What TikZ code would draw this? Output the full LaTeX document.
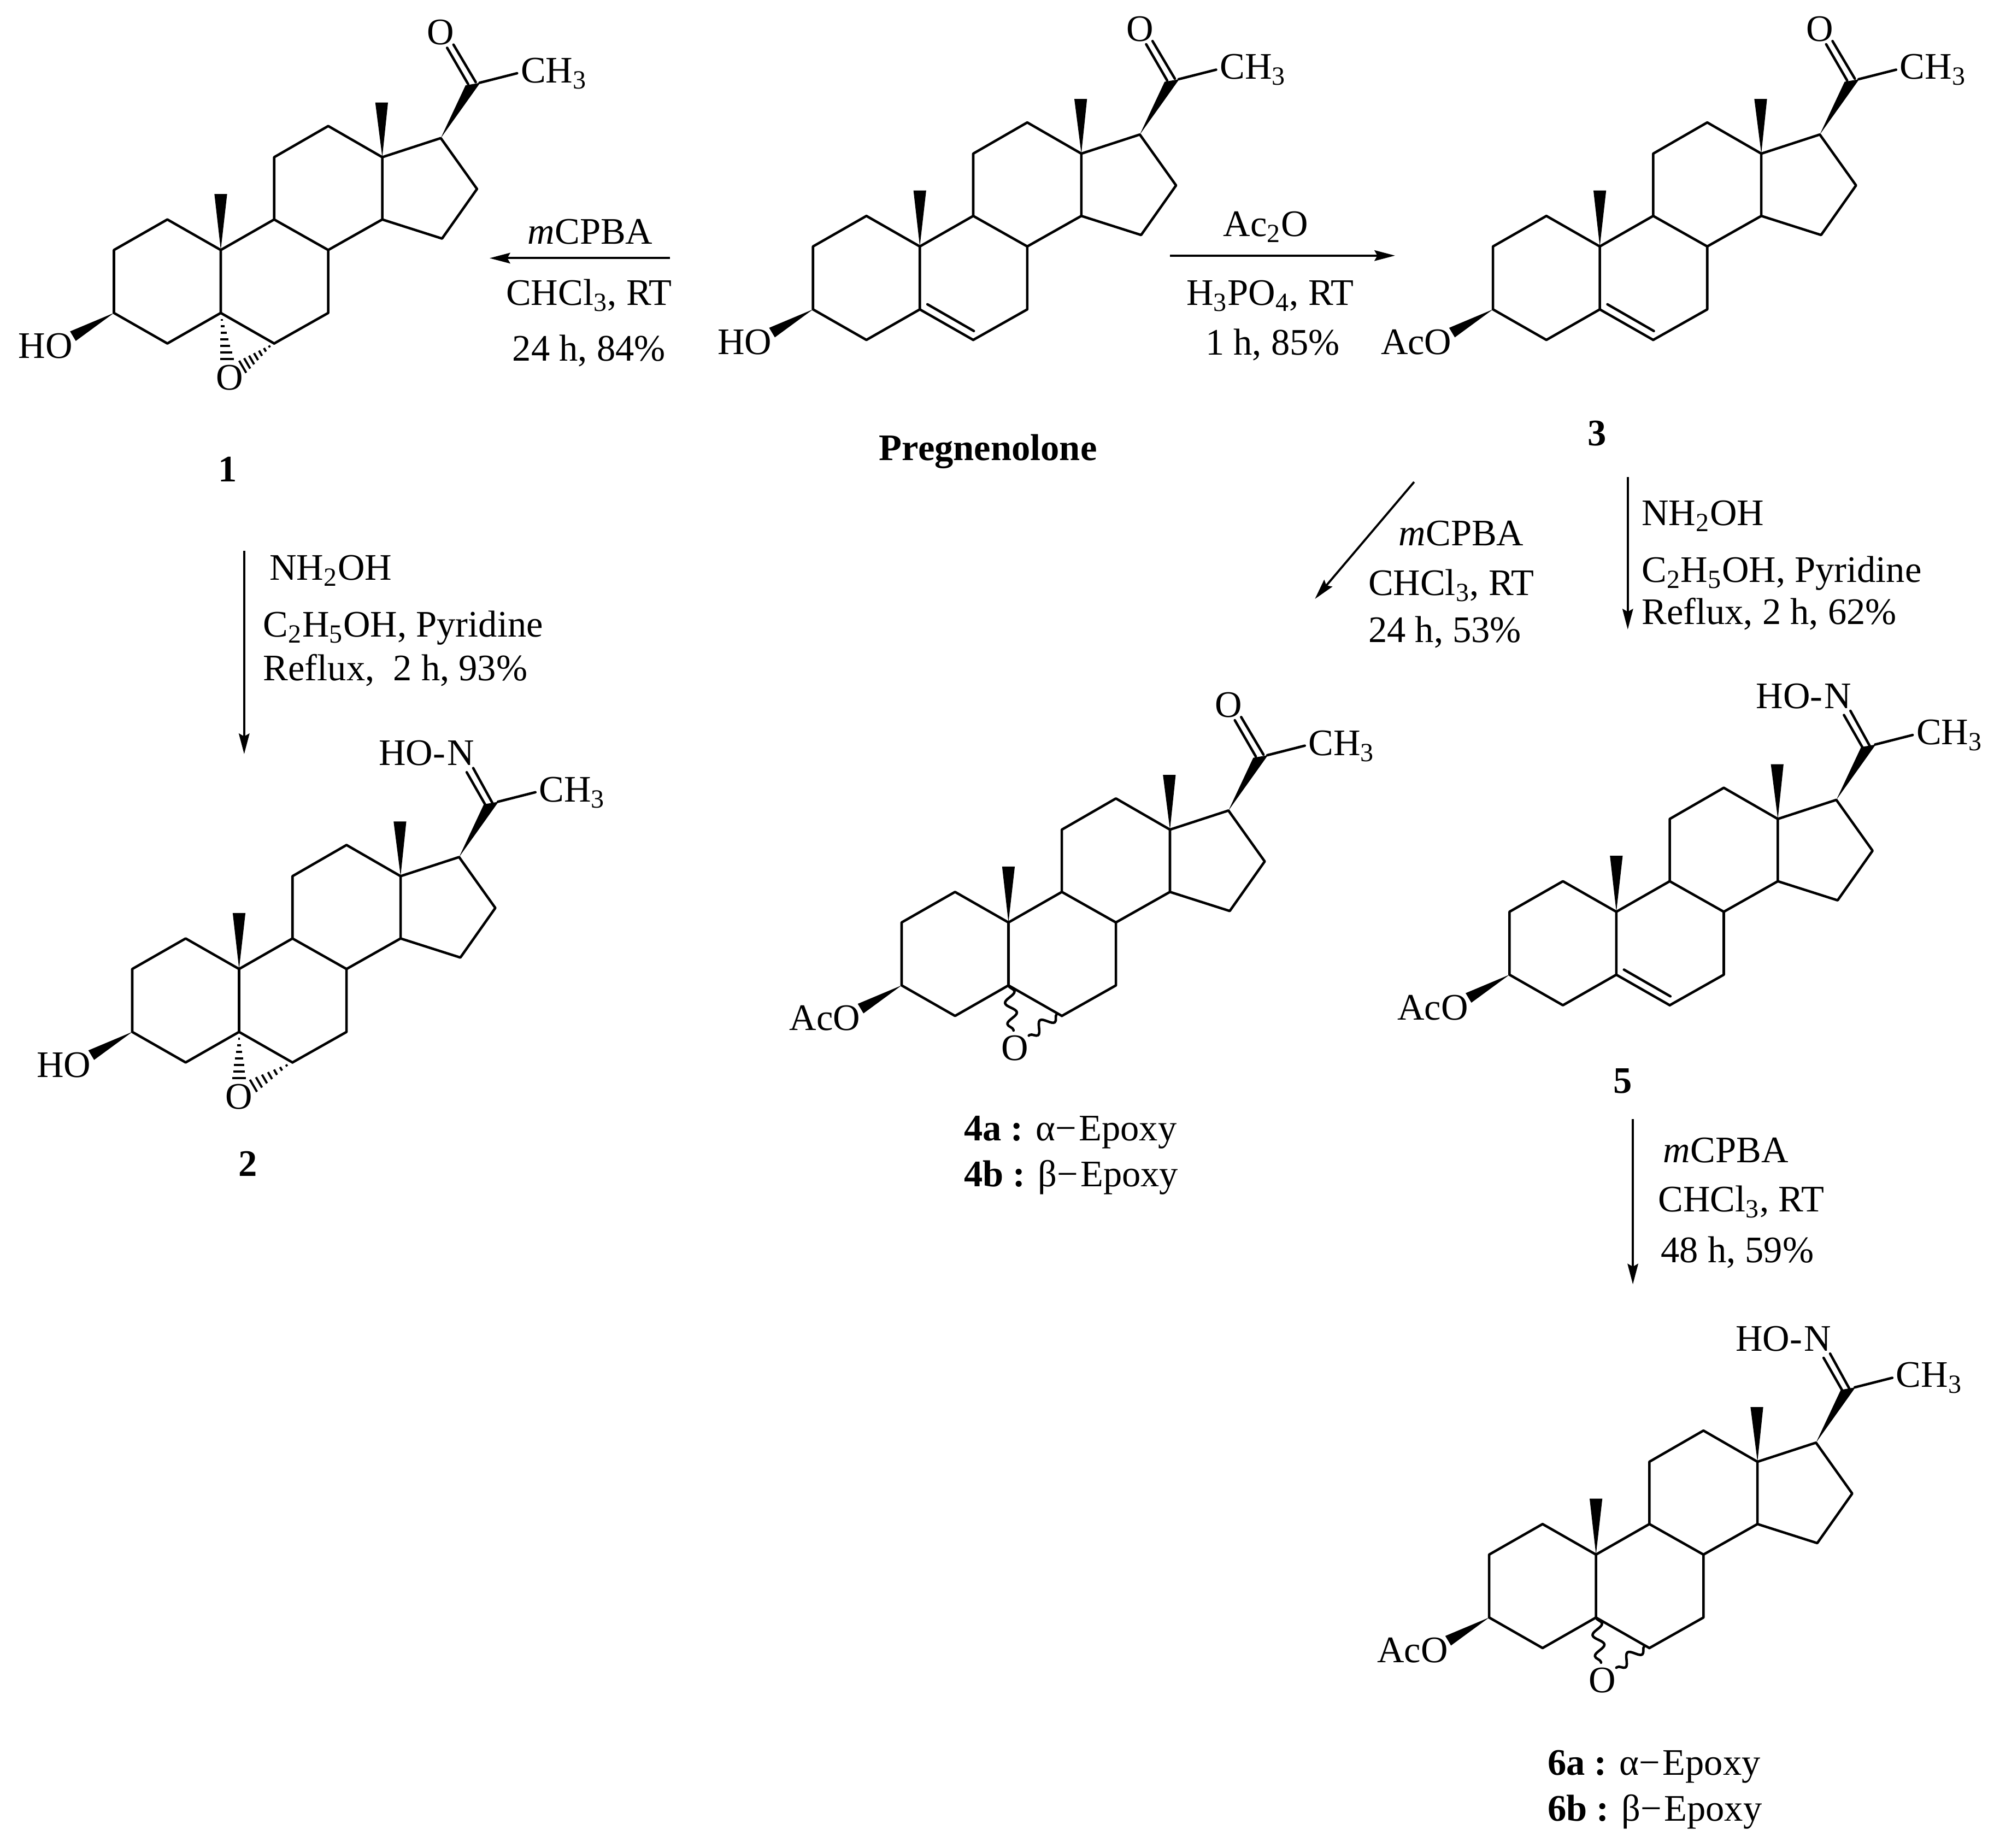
\documentclass[tikz,border=0pt]{standalone}
\usepackage{fontspec}
\setmainfont{Liberation Serif}
\usetikzlibrary{calc,arrows.meta,decorations.pathmorphing}
\tikzset{
  bond/.style={line width=1.3pt,line cap=round,line join=round},
  atom/.style={inner sep=0pt,outer sep=0pt,font=\fontsize{19.5}{23}\selectfont},
  label/.style={atom,font=\fontsize{19.5}{23}\selectfont\bfseries},
  reaction/.style={-{Stealth[length=10.7pt,width=5.5pt,inset=1.5pt]},line width=1.1pt},
  wavy/.style={bond,decorate,decoration={snake,amplitude=2.8pt,segment length=11pt}},
  % the four rings, all single bonds but C5-C6
  pics/rings/.style={code={
    \draw[bond] (0,0) -- (-42,-24) -- (-84,0) -- (-84,49.5) -- (-42,73.5) -- (0,49.5) -- cycle;
    \draw[bond] (0,0) -- (42,-24) -- (84.5,0) -- (84.5,49.5) -- (42,73.5);
    \draw[bond] (42,-24) -- (42,-73) -- (84.5,-97.5) -- (127,-73) -- (127,-24) -- (84.5,0);
    \draw[bond] (127,-24) -- (174,-9) -- (201.5,-48) -- (173,-88) -- (127,-73);
    \fill (0,0) -- (-5,-44) -- (5,-44) -- cycle;
    \fill (127,-73) -- (121.5,-116) -- (131.5,-116) -- cycle;
    \fill (173,-88) -- (192.5,-129.5) -- (204,-131.5) -- cycle;
    \draw[bond] (203.5,-131.5) -- (233,-139);
    \node[atom,anchor=base west] (-me) at (236,-131.5) {CH\textsubscript{3}};
  }},
  pics/ketone/.style={code={
    \draw[bond] (178,-159) -- (194.5,-130.5) (183,-161.5) -- (200.5,-132);
    \node[atom] (-o) at (173,-171) {O};
  }},
  pics/oxime/.style={code={
    \draw[bond] (179,-154.7) -- (193.7,-129) (184.1,-158) -- (199.5,-130);
    \node[atom,anchor=base east] (-n) at (185,-160) {HO-\kern1pt N};
  }},
  pics/beta/.style={code={
    \fill (-84,49.5) -- (-118.5,64) -- (-114,71.5) -- cycle;
    \node[atom,anchor=base east] (-r) at (-116.5,85) {#1};
  }},
  pics/ene/.style={code={
    \draw[bond] (0,49.5) -- (42,73.5) (6,45.5) -- (42.5,66.5);
  }},
  pics/alpha epoxide/.style args={#1 and #2 over #3}{code={
    \draw[bond] (0,49.5) -- (42,73.5);
    \foreach \t in {.15,.29,...,1}{
      \draw[line width=1.1pt] ($(0,49.5)!\t!(#1,86)+\t*(5.5,0)$) -- ($(0,49.5)!\t!(#1,86)-\t*(5.5,0)$); % to C5
      \draw[line width=1.1pt] ($(42,73)!\t!(#2,92)+\t*(2.8,4.8)$) -- ($(42,73)!\t!(#2,92)-\t*(2.8,4.8)$); % to C6
    }
    \node[atom] (-o) at (#3,100.5) {O};
  }},
  pics/wavy epoxide/.style={code={
    \draw[bond] (0,49.5) -- (42,73.5);
    \draw[wavy] (0,49.5) -- (4,85);
    \draw[wavy] (38,72) -- (16,89);
    \node[atom] (-o) at (5,99) {O};
  }},
}
\begin{document}
\begin{tikzpicture}[x=.02327cm,y=-.02327cm]
	\useasboundingbox (0,0) rectangle (1568,1453);

	% the steroids
	\pic (preg) at (723.3,193.8) {rings};
	\pic (preg) at (723.3,193.8) {ketone};
	\pic (preg) at (723.3,193.8) {beta=HO};
	\pic (preg) at (723.3,193.8) {ene};

	\pic (mone) at (173.6,196.6) {rings};
	\pic (mone) at (173.6,196.6) {ketone};
	\pic (mone) at (173.6,196.6) {beta=HO};
	\pic (mone) at (173.6,196.6) {alpha epoxide=5 and 17 over 7};

	\pic (mtwo) at (188,762) {rings};
	\pic (mtwo) at (188,762) {oxime};
	\pic (mtwo) at (188,762) {beta=HO};
	\pic (mtwo) at (188,762) {alpha epoxide=0 and 11 over 0};

	\pic (mthree) at (1258,193.8) {rings};
	\pic (mthree) at (1258,193.8) {ketone};
	\pic (mthree) at (1258,193.8) {beta=AcO};
	\pic (mthree) at (1258,193.8) {ene};

	\pic (mfour) at (793,725.4) {rings};
	\pic (mfour) at (793,725.4) {ketone};
	\pic (mfour) at (793,725.4) {beta=AcO};
	\pic (mfour) at (793,725.4) {wavy epoxide};

	\pic (mfive) at (1271,717) {rings};
	\pic (mfive) at (1271,717) {oxime};
	\pic (mfive) at (1271,717) {beta=AcO};
	\pic (mfive) at (1271,717) {ene};

	\pic (msix) at (1255,1222.5) {rings};
	\pic (msix) at (1255,1222.5) {oxime};
	\pic (msix) at (1255,1222.5) {beta=AcO};
	\pic (msix) at (1255,1222.5) {wavy epoxide};

	% compound labels
	\node[label] (pregname) at (777,355) {Pregnenolone};
	\node[label] (lone) at (179,369) {1};
	\node[label] (ltwo) at (195,915) {2};
	\node[label] (lthree) at (1256,341) {3};
	\node[label] (lfive) at (1276,850) {5};
	\node[atom,anchor=base west] (lfoura) at (758,897) {\textbf{4a :} α−\kern1.3pt Epoxy};
	\node[atom,anchor=base west] (lfourb) at (758,933) {\textbf{4b :} β−\kern1.3pt Epoxy};
	\node[atom,anchor=base west] (lsixa) at (1217,1396) {\textbf{6a :} α−\kern1.3pt Epoxy};
	\node[atom,anchor=base west] (lsixb) at (1217,1432) {\textbf{6b :} β−\kern1.3pt Epoxy};

	% reaction arrows
	\coordinate (ra) at (527,203);
	\coordinate (rb) at (385,203);
	\coordinate (rc) at (920,201);
	\coordinate (rd) at (1097,201);
	\coordinate (re) at (192,433);
	\coordinate (rf) at (192,593);
	\coordinate (rg) at (1112,379);
	\coordinate (rh) at (1034,471);
	\coordinate (ri) at (1280,375);
	\coordinate (rj) at (1280,495);
	\coordinate (rk) at (1284,880);
	\coordinate (rl) at (1284,1010);
	\draw[reaction] (ra) -- (rb);
	\draw[reaction] (rc) -- (rd);
	\draw[reaction] (re) -- (rf);
	\draw[reaction] (rg) -- (rh);
	\draw[reaction] (ri) -- (rj);
	\draw[reaction] (rk) -- (rl);

	% conditions
	\node[atom,anchor=base west] (ca) at (415,192) {\textit{m}CPBA};
	\node[atom,anchor=base west] (cb) at (398,240) {CHCl\textsubscript{3}, RT};
	\node[atom,anchor=base west] (cc) at (403,284) {24 h, 84\%};
	\node[atom,anchor=base west] (cd) at (962,186) {Ac\textsubscript{2}O};
	\node[atom,anchor=base west] (ce) at (933,240) {H\textsubscript{3}PO\textsubscript{4}, RT};
	\node[atom,anchor=base west] (cf) at (948,279) {1 h, 85\%};
	\node[atom,anchor=base west] (cg) at (212,456) {NH\textsubscript{2}OH};
	\node[atom,anchor=base west] (ch) at (207,501) {C\textsubscript{2}H\textsubscript{5}OH, Pyridine};
	\node[atom,anchor=base west] (ci) at (207,535) {Reflux,\ \ 2 h, 93\%};
	\node[atom,anchor=base west] (cj) at (1100,429) {\textit{m}CPBA};
	\node[atom,anchor=base west] (ck) at (1076,468) {CHCl\textsubscript{3}, RT};
	\node[atom,anchor=base west] (cl) at (1076,505) {24 h, 53\%};
	\node[atom,anchor=base west] (cm) at (1291,413) {NH\textsubscript{2}OH};
	\node[atom,anchor=base west] (cn) at (1291,458) {C\textsubscript{2}H\textsubscript{5}OH, Pyridine};
	\node[atom,anchor=base west] (co) at (1291,491) {Reflux, 2 h, 62\%};
	\node[atom,anchor=base west] (cp) at (1308,914) {\textit{m}CPBA};
	\node[atom,anchor=base west] (cq) at (1304,953) {CHCl\textsubscript{3}, RT};
	\node[atom,anchor=base west] (cr) at (1306,993) {48 h, 59\%};
\end{tikzpicture}
\end{document}
